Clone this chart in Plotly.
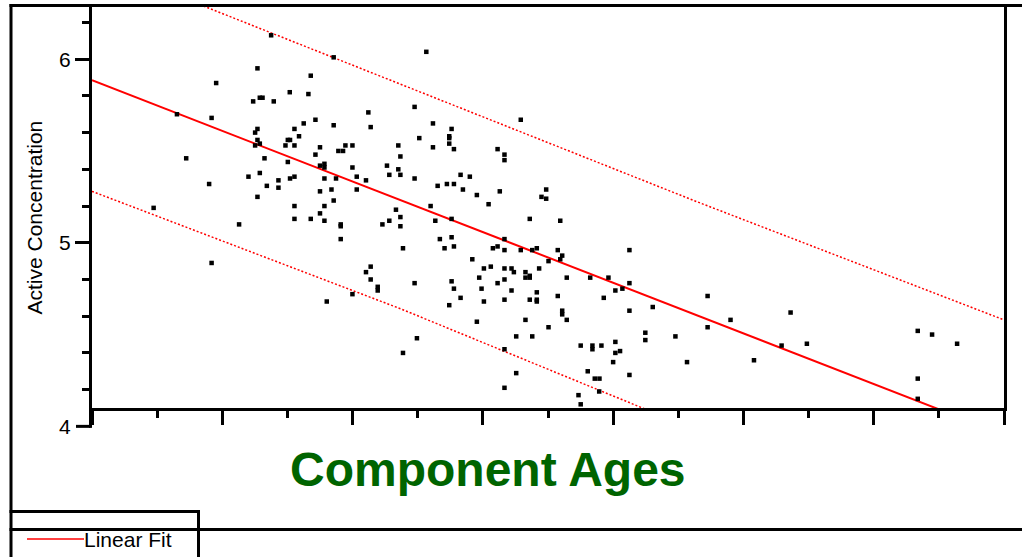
import plotly.graph_objects as go

# ---------------- data ----------------
age = [
    13.75, 18.55, 12.70, 16.79, 9.53, 15.18, 16.61, 12.37, 12.88, 13.09, 13.95, 6.52, 9.18, 21.21, 17.15,
    16.25, 18.55, 21.39, 12.70, 12.52, 15.54, 15.89, 12.70, 12.88, 12.52, 15.03, 15.20, 14.85, 15.54, 19.45,
    19.99, 23.51, 17.50, 18.91, 19.27, 17.15, 23.67, 7.23, 13.24, 15.03, 17.84, 17.50, 17.84, 22.64, 19.99,
    23.51, 12.88, 22.82, 23.67, 12.01, 15.54, 20.32, 15.20, 17.84, 18.73, 21.03, 8.99, 14.31, 13.42, 14.31,
    18.38, 17.50, 20.32, 12.70, 18.55, 15.54, 17.84, 4.73, 23.33,
    15.54, 16.79, 17.50, 17.84, 11.29, 19.09, 19.09, 19.09, 22.29, 22.82, 23.67, 23.67, 9.18, 21.39, 21.03,
    21.39, 21.93, 21.93, 19.99, 18.02,
    25.66, 24.76, 32.91, 26.17, 27.60, 27.42, 27.42, 27.42, 25.12, 26.17, 27.78, 31.13, 31.66, 31.66, 24.76,
    28.29, 29.00, 26.53, 27.24, 27.78, 28.47, 29.54, 31.30, 30.44, 34.50, 34.86, 34.86, 25.99,
    26.35, 27.60, 33.60, 35.94, 26.70, 27.60, 31.66, 23.87, 27.06, 27.78, 30.77, 31.13, 31.66, 32.91, 33.79,
    34.14, 35.75, 36.09, 35.94, 35.04, 41.25, 29.19, 30.08, 30.61, 31.66, 32.20, 32.38, 33.27, 33.27, 33.60,
    33.60, 34.32, 36.44, 38.24, 39.64, 29.72, 31.66, 27.60, 24.76, 31.13, 41.25, 27.78, 29.90, 32.20, 34.14,
    40.71, 40.17, 28.29, 35.75, 39.28, 31.66, 33.60, 34.14, 34.14, 30.08, 27.42, 43.04, 41.25, 36.09, 36.09,
    36.44, 33.27, 29.54, 35.04, 24.94, 32.56, 33.79, 42.47, 42.47, 44.78, 23.87, 31.66, 37.51, 38.41, 38.41,
    39.10, 40.17, 40.17, 40.53, 40.00, 45.67, 32.56, 38.05, 38.59, 38.95, 41.25, 31.66, 38.93, 37.34, 37.51,
    47.25, 47.25, 49.01, 50.81, 52.93, 53.62, 54.87, 63.38, 64.48, 66.40, 63.38, 63.38,
]
conc = [
    6.13, 6.01, 5.95, 5.91, 5.87, 5.82, 5.81, 5.77, 5.79, 5.79, 5.77, 5.70, 5.68, 5.71, 5.67,
    5.65, 5.64, 5.63, 5.62, 5.60, 5.62, 5.58, 5.56, 5.54, 5.53, 5.56, 5.56, 5.53, 5.53, 5.53,
    5.53, 5.53, 5.52, 5.50, 5.50, 5.48, 5.47, 5.46, 5.46, 5.44, 5.43, 5.42, 5.41, 5.42, 5.41,
    5.40, 5.38, 5.37, 5.37, 5.36, 5.36, 5.36, 5.35, 5.35, 5.35, 5.34, 5.32, 5.34, 5.31, 5.30,
    5.29, 5.28, 5.29, 5.25, 5.23, 5.20, 5.20, 5.19, 5.18,
    5.13, 5.13, 5.16, 5.12, 5.10, 5.10, 5.09, 5.02, 5.10, 5.12, 5.14, 5.09, 4.89, 4.87, 4.84,
    4.80, 4.76, 4.74, 4.72, 4.68,
    6.04, 5.74, 5.67, 5.65, 5.62, 5.58, 5.57, 5.54, 5.57, 5.52, 5.51, 5.51, 5.48, 5.45, 5.35,
    5.37, 5.36, 5.31, 5.32, 5.32, 5.29, 5.26, 5.28, 5.21, 5.25, 5.29, 5.24, 5.20,
    5.12, 5.13, 5.13, 5.12, 5.02, 5.03, 5.02, 4.97, 4.97, 4.98, 4.97, 4.98, 4.96, 4.96, 4.96,
    4.97, 4.96, 4.93, 4.91, 4.90, 4.96, 4.91, 4.86, 4.87, 4.86, 4.86, 4.84, 4.84, 4.81, 4.82,
    4.81, 4.86, 4.81, 4.81, 4.81, 4.81, 4.80, 4.79, 4.78, 4.78, 4.78, 4.75, 4.75, 4.74, 4.73,
    4.75, 4.74, 4.70, 4.71, 4.70, 4.69, 4.69, 4.69, 4.68, 4.68, 4.66, 4.65, 4.63, 4.63, 4.61,
    4.58, 4.58, 4.57, 4.54, 4.48, 4.49, 4.49, 4.51, 4.47, 4.49, 4.40, 4.42, 4.44, 4.44, 4.42,
    4.44, 4.46, 4.40, 4.41, 4.35, 4.35, 4.29, 4.30, 4.26, 4.26, 4.28, 4.21, 4.19, 4.17, 4.12,
    4.71, 4.54, 4.58, 4.36, 4.44, 4.62, 4.45, 4.52, 4.50, 4.45, 4.26, 4.15,
]

fit_x = [0, 70]
fit_y = [5.885, 3.955]
upper_x = [0, 8, 23.7, 46.7, 70]
upper_y = [6.53, 6.305, 5.86, 5.216, 4.58]
lower_x = [0, 23.7, 42.6, 70]
lower_y = [5.28, 4.64, 4.09, 3.30]

x_range = [0, 70]
y_range = [4.1, 6.295]
y_ticks = [4, 5, 6]

title_text = "Component Ages"
y_title = "Active Concentration"
legend_text = "Linear Fit"

# ---------------- layout helpers ----------------
W, H = 1022, 557
L, R, T, B = 92, 18, 5, 149
PW = W - L - R
PH = H - T - B
FONT = "Liberation Sans, Arial, Helvetica, sans-serif"


def pxx(xp):
    return (xp - L) / PW


def pxy(yp):
    return (H - B - yp) / PH


def val_to_paper_y(v):
    return (v - y_range[0]) / (y_range[1] - y_range[0])


fig = go.Figure()
fig.add_trace(go.Scatter(x=upper_x, y=upper_y, mode="lines",
                         line=dict(color="#ff0000", width=1.5, dash="2px,2px"),
                         showlegend=False, hoverinfo="skip"))
fig.add_trace(go.Scatter(x=lower_x, y=lower_y, mode="lines",
                         line=dict(color="#ff0000", width=1.5, dash="2px,2px"),
                         showlegend=False, hoverinfo="skip"))
fig.add_trace(go.Scatter(x=fit_x, y=fit_y, mode="lines", name=legend_text,
                         line=dict(color="#ff0000", width=2), showlegend=False))
fig.add_trace(go.Scatter(x=age, y=conc, mode="markers", name="Data",
                         marker=dict(symbol="square", size=4.5, color="black",
                                     line=dict(width=0)),
                         showlegend=False))

shapes = []
lw = 3
axis_x = L - lw / 2  # where plotly draws the y axis line
# outer frame
shapes.append(dict(type="line", xref="paper", yref="paper", x0=pxx(11), x1=pxx(11),
                   y0=pxy(4), y1=pxy(562), line=dict(color="black", width=lw)))
shapes.append(dict(type="line", xref="paper", yref="paper", x0=pxx(9.5), x1=pxx(1030),
                   y0=pxy(5.5), y1=pxy(5.5), line=dict(color="black", width=lw)))
shapes.append(dict(type="line", xref="paper", yref="paper", x0=pxx(9.5), x1=pxx(1030),
                   y0=pxy(529.5), y1=pxy(529.5), line=dict(color="black", width=lw)))
# legend box
shapes.append(dict(type="line", xref="paper", yref="paper", x0=pxx(9.5), x1=pxx(200),
                   y0=pxy(511.5), y1=pxy(511.5), line=dict(color="black", width=lw)))
shapes.append(dict(type="line", xref="paper", yref="paper", x0=pxx(198.5), x1=pxx(198.5),
                   y0=pxy(510), y1=pxy(562), line=dict(color="black", width=lw)))
# legend sample line
shapes.append(dict(type="line", xref="paper", yref="paper", x0=pxx(27), x1=pxx(84),
                   y0=pxy(539), y1=pxy(539), line=dict(color="#ff0000", width=1.5)))
# y axis extension down to 4 plus its tick
y4 = val_to_paper_y(y_ticks[0])
shapes.append(dict(type="line", xref="paper", yref="paper", x0=pxx(axis_x), x1=pxx(axis_x),
                   y0=0, y1=y4 - 1.5 / PH, line=dict(color="black", width=lw)))
shapes.append(dict(type="line", xref="paper", yref="paper", x0=pxx(76), x1=pxx(axis_x),
                   y0=y4, y1=y4, line=dict(color="black", width=lw)))

annotations = [
    dict(text=str(y_ticks[0]), xref="paper", yref="paper", x=pxx(73), y=y4,
         xanchor="right", yanchor="middle", showarrow=False,
         font=dict(family=FONT, size=21, color="black")),
    dict(text=y_title, xref="paper", yref="paper", x=pxx(34), y=pxy(217.5),
         xanchor="center", yanchor="middle", textangle=-90, showarrow=False,
         font=dict(family=FONT, size=21, color="black")),
    dict(text="<b>" + title_text + "</b>", xref="paper", yref="paper",
         x=pxx(487.5), y=pxy(470), xanchor="center", yanchor="middle", showarrow=False,
         font=dict(family=FONT, size=48, color="#006400")),
    dict(text=legend_text, xref="paper", yref="paper", x=pxx(82), y=pxy(539),
         xanchor="left", yanchor="middle", showarrow=False,
         font=dict(family=FONT, size=21, color="black")),
]

fig.update_layout(
    width=W, height=H, autosize=False,
    margin=dict(l=L, r=R, t=T, b=B, pad=0),
    paper_bgcolor="white", plot_bgcolor="white",
    font=dict(family=FONT, size=21, color="black"),
    showlegend=False,
    shapes=shapes, annotations=annotations,
    xaxis=dict(range=x_range, showgrid=False, zeroline=False, showline=True,
               linecolor="black", linewidth=lw, mirror=False,
               ticks="outside", ticklen=14, tickwidth=lw, tickcolor="black",
               dtick=10, tick0=0, showticklabels=False,
               minor=dict(ticks="outside", ticklen=7, tickwidth=lw, tickcolor="black",
                          dtick=5, showgrid=False)),
    yaxis=dict(range=y_range, showgrid=False, zeroline=False, showline=True,
               linecolor="black", linewidth=lw, mirror=True,
               ticks="outside", ticklen=14, tickwidth=lw, tickcolor="black",
               tickvals=y_ticks, ticktext=[str(v) for v in y_ticks],
               tickfont=dict(family=FONT, size=21, color="black"),
               minor=dict(ticks="outside", ticklen=7, tickwidth=lw, tickcolor="black",
                          dtick=0.2, tick0=4, showgrid=False)),
)

fig.write_html("out.html", config={"displayModeBar": False},
               post_script="document.body.style.margin='0';document.body.style.overflow='hidden';")
